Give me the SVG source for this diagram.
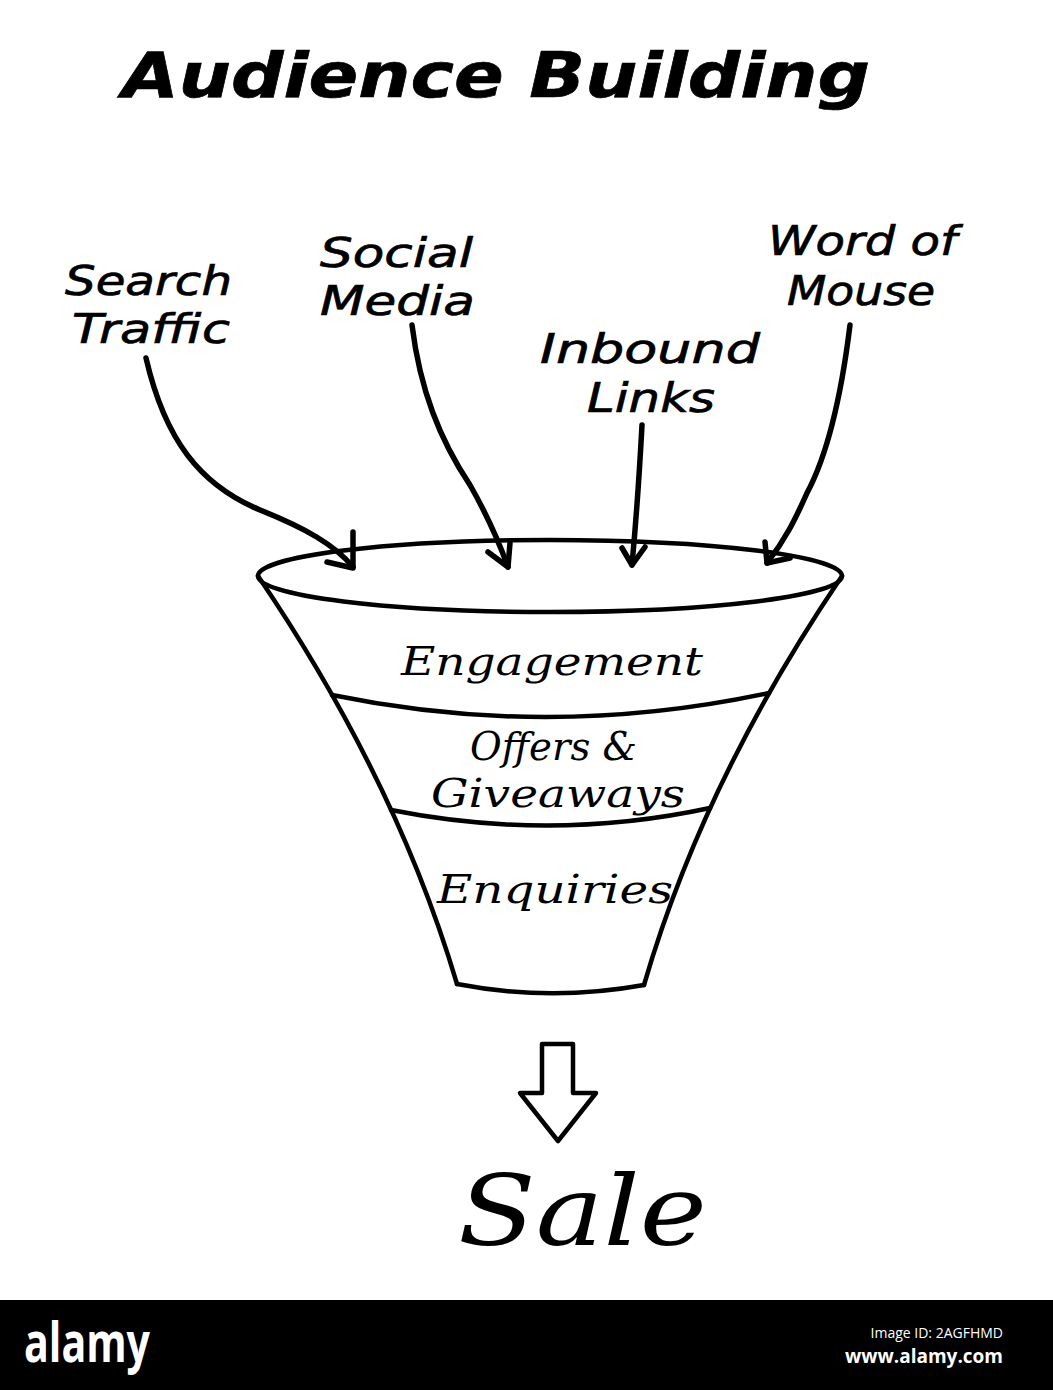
<svg xmlns="http://www.w3.org/2000/svg" width="1053" height="1390" viewBox="0 0 1053 1390">
  <style>
    .hand { font-family: "DejaVu Sans", "Liberation Sans", sans-serif; font-style: oblique; fill: #000; stroke: #000; stroke-width: 0.7; }
    .cal { font-family: "DejaVu Serif", "Liberation Serif", serif; font-style: italic; fill: #000; }
    .line { fill: none; stroke: #000; stroke-width: 4.5; stroke-linecap: round; stroke-linejoin: round; }
    .conn { fill: none; stroke: #000; stroke-width: 5.5; stroke-linecap: round; stroke-linejoin: round; }
    .mark { font-family: "Open Sans", "DejaVu Sans", sans-serif; fill: #fff; }
  </style>
  <rect x="0" y="0" width="1053" height="1390" fill="#fff"/>

  <g id="title">
    <text class="hand" x="122" y="97" font-size="62" font-weight="bold" stroke-width="0" textLength="748" lengthAdjust="spacingAndGlyphs">Audience Building</text>
  </g>

  <g id="search-traffic">
    <text class="hand" x="65" y="295" font-size="40" textLength="167" lengthAdjust="spacingAndGlyphs">Search</text>
    <text class="hand" x="72" y="343" font-size="40" textLength="158" lengthAdjust="spacingAndGlyphs">Traffic</text>
  </g>
  <g id="social-media">
    <text class="hand" x="320" y="267" font-size="40" textLength="153" lengthAdjust="spacingAndGlyphs">Social</text>
    <text class="hand" x="320" y="315" font-size="40" textLength="155" lengthAdjust="spacingAndGlyphs">Media</text>
  </g>
  <g id="inbound-links">
    <text class="hand" x="540" y="363" font-size="40" textLength="220" lengthAdjust="spacingAndGlyphs">Inbound</text>
    <text class="hand" x="587" y="412" font-size="40" textLength="128" lengthAdjust="spacingAndGlyphs">Links</text>
  </g>
  <g id="word-of-mouse">
    <text class="hand" x="768" y="255" font-size="40" textLength="189" lengthAdjust="spacingAndGlyphs">Word of</text>
    <text class="hand" x="787" y="305" font-size="40" textLength="148" lengthAdjust="spacingAndGlyphs">Mouse</text>
  </g>

  <g id="funnel">
    <ellipse class="line" cx="550" cy="576" rx="292" ry="36"/>
    <path class="line" d="M258,576 Q396.5,780 457,984"/>
    <path class="line" d="M842,576 Q703.5,780 644,985"/>
    <path class="line" d="M457,984 Q550,1002 644,985"/>
  </g>
  <g id="engagement">
    <path class="line" d="M332,695 Q550,740 769,693"/>
    <text class="cal" x="401" y="675" font-size="40" textLength="302" lengthAdjust="spacingAndGlyphs">Engagement</text>
  </g>
  <g id="offers-giveaways">
    <path class="line" d="M391,810 Q552,842 710,808"/>
    <text class="cal" x="470" y="760" font-size="40" textLength="167" lengthAdjust="spacingAndGlyphs">Offers &amp;</text>
    <text class="cal" x="431" y="807" font-size="40" textLength="254" lengthAdjust="spacingAndGlyphs">Giveaways</text>
  </g>
  <g id="enquiries">
    <text class="cal" x="437" y="903" font-size="40" textLength="236" lengthAdjust="spacingAndGlyphs">Enquiries</text>
  </g>

  <g id="connectors">
    <path class="conn" d="M146,358 C165,440 200,485 260,510 C305,528 335,545 353,567"/>
    <path class="conn" d="M353,532 L353,568 L327,562"/>
    <path class="conn" d="M412,325 C420,390 440,440 470,485 C490,520 500,545 508,567"/>
    <path class="conn" d="M488,552 L508,567 L510,543"/>
    <path class="conn" d="M642,425 Q638,500 632,565"/>
    <path class="conn" d="M622,548 L632,565 L645,547"/>
    <path class="conn" d="M850,325 C842,390 830,450 807,493 C795,520 785,540 767,563"/>
    <path class="conn" d="M765,542 L767,563 L790,558"/>
    <path class="line" d="M542,1044 L573,1044 L573,1093 L596,1093 L558,1141 L520,1093 L542,1093 Z"/>
  </g>

  <g id="sale">
    <text class="cal" x="458" y="1245" font-size="98" textLength="249" lengthAdjust="spacingAndGlyphs">Sale</text>
  </g>

  <g id="watermark">
    <rect x="0" y="1300" width="1053" height="90" fill="#000"/>
    <text class="mark" x="24" y="1362" font-size="56" font-weight="bold" textLength="126" lengthAdjust="spacingAndGlyphs">alamy</text>
    <text class="mark" x="1003" y="1338" font-size="14" text-anchor="end">Image ID: 2AGFHMD</text>
    <text class="mark" x="1003" y="1363" font-size="19" font-weight="bold" text-anchor="end">www.alamy.com</text>
  </g>
</svg>
